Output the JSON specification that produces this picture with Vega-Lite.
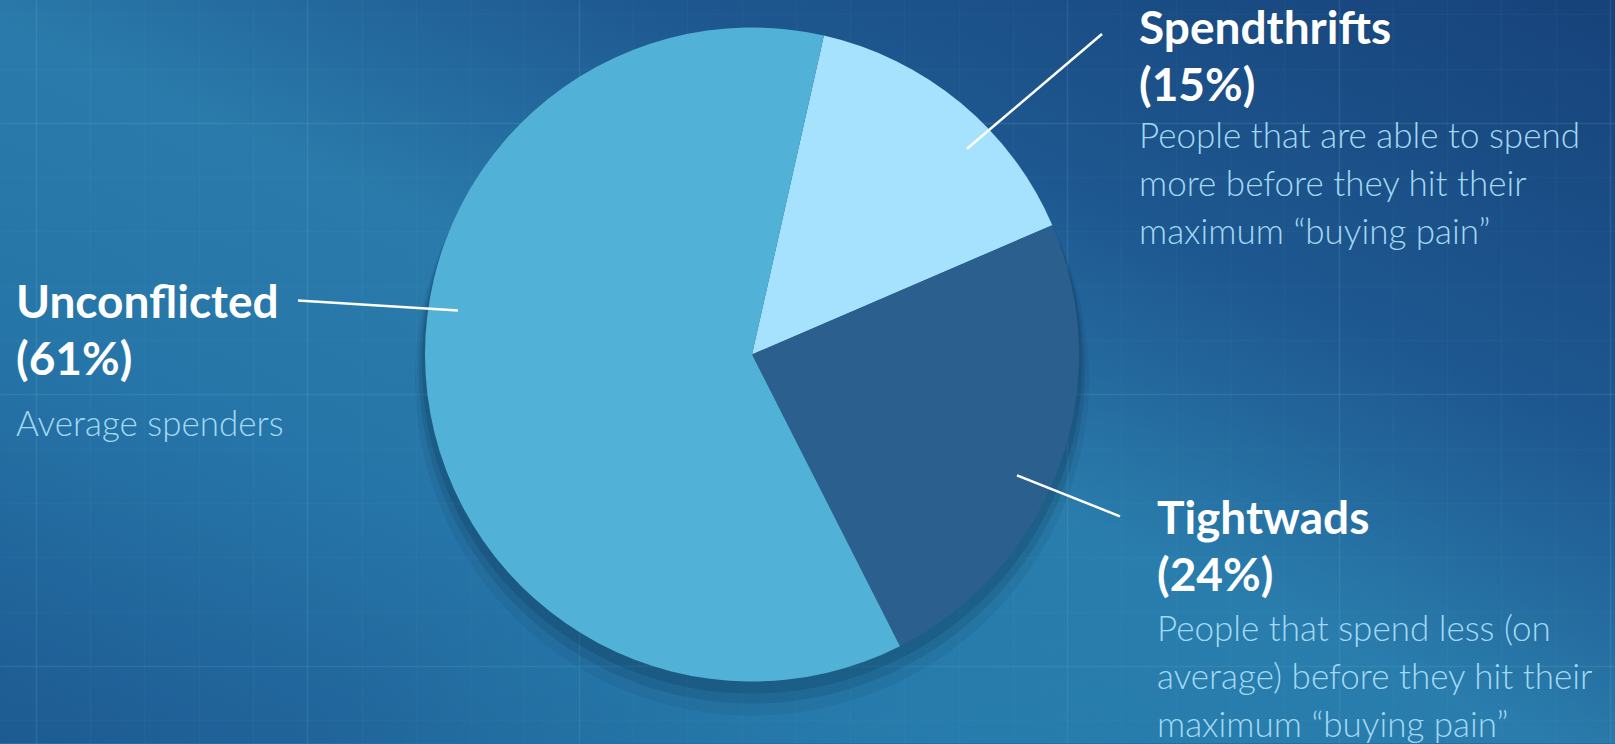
{
  "$schema": "https://vega.github.io/schema/vega-lite/v6.json",
  "width": 1615,
  "height": 744,
  "autosize": {"type": "fit", "contains": "padding"},
  "padding": 0,
  "background": "#236fa3",
  "view": {"stroke": null, "fill": {"gradient": "linear", "x1": 1, "y1": 0, "x2": 0, "y2": 1, "stops": [
    {"offset": 0, "color": "#17427a"},
    {"offset": 0.3, "color": "#1e5890"},
    {"offset": 0.52, "color": "#2a7bab"},
    {"offset": 0.72, "color": "#2675a8"},
    {"offset": 1, "color": "#1d5a92"}
  ]}},
  "config": {
    "view": {"stroke": null},
    "axis": {"labels": false, "ticks": false, "domain": false, "title": null}
  },
  "datasets": {
    "center": [{"cx": 752, "cy": 355}],
    "pie": [
      {"segment": "Spendthrifts", "share": 15},
      {"segment": "Tightwads", "share": 24},
      {"segment": "Unconflicted", "share": 61}
    ],
    "labels": [
      {"segment": "Spendthrifts", "title": "Spendthrifts\n(15%)", "desc": "People that are able to spend\nmore before they hit their\nmaximum “buying pain”", "lx": 1139, "ty": 44, "dy": 148, "x1": 967, "y1": 149, "x2": 1102, "y2": 34},
      {"segment": "Unconflicted", "title": "Unconflicted\n(61%)", "desc": "Average spenders", "lx": 16, "ty": 318, "dy": 437, "x1": 458, "y1": 311, "x2": 298, "y2": 301},
      {"segment": "Tightwads", "title": "Tightwads\n(24%)", "desc": "People that spend less (on\naverage) before they hit their\nmaximum “buying pain”", "lx": 1157, "ty": 535, "dy": 642, "x1": 1017, "y1": 476, "x2": 1120, "y2": 517}
    ]
  },
  "layer": [
    {
      "data": {"name": "center"},
      "mark": {"type": "rect", "fill": {"gradient": "radial", "x1": 0.62, "y1": 1, "r1": 0, "x2": 0.62, "y2": 1, "r2": 0.5, "stops": [
        {"offset": 0, "color": "rgba(38,138,180,0.7)"},
        {"offset": 1, "color": "rgba(38,138,180,0)"}
      ]}},
      "encoding": {"x": {"value": 0}, "x2": {"value": "width"}, "y": {"value": 0}, "y2": {"value": "height"}}
    },
    {
      "data": {"name": "center"},
      "mark": {"type": "arc", "outerRadius": 337, "yOffset": 24, "color": "#08243d", "opacity": 0.08},
      "encoding": {
        "x": {"field": "cx", "type": "quantitative", "title": null},
        "y": {"field": "cy", "type": "quantitative", "title": null}
      }
    },
    {
      "data": {"name": "center"},
      "mark": {"type": "arc", "outerRadius": 333, "yOffset": 16, "color": "#08243d", "opacity": 0.12},
      "encoding": {
        "x": {"field": "cx", "type": "quantitative", "title": null},
        "y": {"field": "cy", "type": "quantitative", "title": null}
      }
    },
    {
      "data": {"name": "center"},
      "mark": {"type": "arc", "outerRadius": 330, "yOffset": 9, "color": "#08243d", "opacity": 0.16},
      "encoding": {
        "x": {"field": "cx", "type": "quantitative", "title": null},
        "y": {"field": "cy", "type": "quantitative", "title": null}
      }
    },
    {
      "data": {"name": "pie"},
      "transform": [
        {"stack": "share", "groupby": [], "sort": [{"field": "segment"}], "as": ["t0", "t1"]}
      ],
      "mark": {"type": "arc", "outerRadius": 327},
      "encoding": {
        "theta": {"field": "t0", "type": "quantitative", "stack": null, "scale": {"domain": [0, 100], "range": [0.2217, 6.5049]}},
        "theta2": {"field": "t1"},
        "color": {"field": "segment", "type": "nominal", "legend": null, "scale": {"domain": ["Spendthrifts", "Tightwads", "Unconflicted"], "range": ["#a6e1fd", "#2b5f8e", "#52b1d6"]}},
        "x": {"datum": 752, "type": "quantitative", "stack": null, "title": null,
          "scale": {"domain": [0, 1615], "nice": false, "zero": false},
          "axis": {"grid": true, "gridColor": "#8fd0f0", "gridWidth": 1.5,
            "gridOpacity": {"condition": {"test": "round(datum.index*30) % 5 === 0", "value": 0.13}, "value": 0.04},
            "values": [-18.4, 35.88, 90.16, 144.44, 198.72, 253, 307.28, 361.56, 415.84, 470.12, 524.4, 578.68, 632.96, 687.24, 741.52, 795.8, 850.08, 904.36, 958.64, 1012.92, 1067.2, 1121.48, 1175.76, 1230.04, 1284.32, 1338.6, 1392.88, 1447.16, 1501.44, 1555.72, 1610]}},
        "y": {"datum": 355, "type": "quantitative", "stack": null, "title": null,
          "scale": {"domain": [0, 744], "reverse": true, "nice": false, "zero": false},
          "axis": {"grid": true, "gridColor": "#8fd0f0", "gridWidth": 1.5,
            "gridOpacity": {"condition": {"test": "round(datum.index*13) % 5 === 2", "value": 0.13}, "value": 0.04},
            "values": [14.2, 68.6, 123, 177.4, 231.8, 286.2, 340.6, 395, 449.4, 503.8, 558.2, 612.6, 667, 721.4]}}
      }
    },
    {
      "data": {"name": "labels"},
      "mark": {"type": "rule", "color": "#ffffff", "strokeWidth": 2.5},
      "encoding": {
        "x": {"field": "x1", "type": "quantitative", "title": null},
        "y": {"field": "y1", "type": "quantitative", "title": null},
        "x2": {"field": "x2"},
        "y2": {"field": "y2"}
      }
    },
    {
      "data": {"name": "labels"},
      "mark": {"type": "text", "font": "Lato", "fontWeight": 700, "fontSize": 46, "color": "#ffffff", "align": "left", "baseline": "alphabetic", "lineBreak": "\n", "lineHeight": 57},
      "encoding": {
        "x": {"field": "lx", "type": "quantitative", "title": null},
        "y": {"field": "ty", "type": "quantitative", "title": null},
        "text": {"field": "title"}
      }
    },
    {
      "data": {"name": "labels"},
      "mark": {"type": "text", "font": "Lato", "fontWeight": 300, "fontSize": 35, "color": "#a3d9f3", "align": "left", "baseline": "alphabetic", "lineBreak": "\n", "lineHeight": 48},
      "encoding": {
        "x": {"field": "lx", "type": "quantitative", "title": null},
        "y": {"field": "dy", "type": "quantitative", "title": null},
        "text": {"field": "desc"}
      }
    }
  ]
}
